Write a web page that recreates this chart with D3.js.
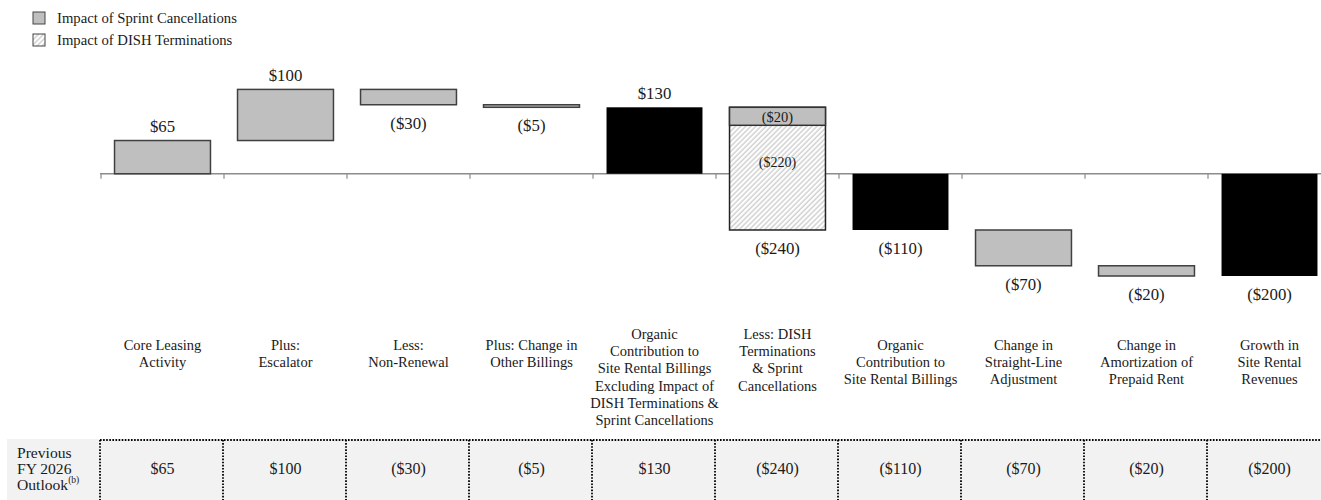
<!DOCTYPE html>
<html>
<head>
<meta charset="utf-8">
<script src="https://cdn.jsdelivr.net/npm/d3@7/dist/d3.min.js"></script>
<style>
  html, body { margin: 0; padding: 0; background: #fff; }
  svg { display: block; }
  text { font-family: "Liberation Serif", "Times New Roman", serif; fill: #1a1a1a; }
</style>
</head>
<body>
<svg id="chart" width="1321" height="500"></svg>
<script>
// ---------- data ----------
const categories = [
  "Core Leasing Activity", "Plus: Escalator", "Less: Non-Renewal", "Plus: Change in Other Billings",
  "Organic Contribution to Site Rental Billings Excluding Impact of DISH Terminations & Sprint Cancellations",
  "Less: DISH Terminations & Sprint Cancellations", "Organic Contribution to Site Rental Billings",
  "Change in Straight-Line Adjustment", "Change in Amortization of Prepaid Rent", "Growth in Site Rental Revenues"
];
const categoryLines = [
  ["Core Leasing", "Activity"],
  ["Plus:", "Escalator"],
  ["Less:", "Non-Renewal"],
  ["Plus: Change in", "Other Billings"],
  ["Organic", "Contribution to", "Site Rental Billings", "Excluding Impact of", "DISH Terminations &", "Sprint Cancellations"],
  ["Less: DISH", "Terminations", "& Sprint", "Cancellations"],
  ["Organic", "Contribution to", "Site Rental Billings"],
  ["Change in", "Straight-Line", "Adjustment"],
  ["Change in", "Amortization of", "Prepaid Rent"],
  ["Growth in", "Site Rental", "Revenues"]
];
const values = [65, 100, -30, -5, 130, -240, -110, -70, -20, -200];
const kinds  = ["delta", "delta", "delta", "delta", "total", "split", "total", "delta", "delta", "total"];
const sprintImpact = -20;
const dishImpact = -220;
const outlookValues = [65, 100, -30, -5, 130, -240, -110, -70, -20, -200];
const legendItems = ["Impact of Sprint Cancellations", "Impact of DISH Terminations"];
const rowHeader = ["Previous", "FY 2026", "Outlook"];

// ---------- helpers ----------
const fmt = v => v < 0 ? "($" + Math.abs(v) + ")" : "$" + v;

// waterfall geometry
let run = 0;
const bars = values.map((v, i) => {
  let start, end;
  if (kinds[i] === "total") { start = 0; end = v; run = v; }
  else { start = run; end = run + v; run = end; }
  return { cat: categories[i], v, kind: kinds[i], start, end, i };
});

const svg = d3.select("#chart");
const W = 1321;

const x = d3.scaleBand().domain(categories).range([101, 1331]).paddingInner(0.22).paddingOuter(0.11);
const step = x.step();
const y = d3.scaleLinear().domain([-200, 130]).range([276, 107.3]);

// defs: hatch
const defs = svg.append("defs");
const pat = defs.append("pattern").attr("id", "hatch").attr("patternUnits", "userSpaceOnUse")
  .attr("width", 3.6).attr("height", 3.6).attr("patternTransform", "rotate(45)");
pat.append("rect").attr("width", 3.6).attr("height", 3.6).attr("fill", "#fff");
pat.append("line").attr("x1", 1).attr("y1", 0).attr("x2", 1).attr("y2", 3.6)
  .attr("stroke", "#b4b4b4").attr("stroke-width", 0.9);

// ---------- legend ----------
const lg = svg.append("g");
legendItems.forEach((t, i) => {
  const yy = 12 + i * 22;
  lg.append("rect").attr("x", 33).attr("y", yy).attr("width", 12).attr("height", 12)
    .attr("fill", i === 0 ? "#bfbfbf" : "url(#hatch)").attr("stroke", "#444").attr("stroke-width", 1);
  lg.append("text").attr("x", 57).attr("y", yy + 6).attr("dy", "0.35em")
    .style("font-size", "14.7px").text(t);
});

// ---------- axis ----------
const boundaries = categories.map(c => x(c) - step * x.paddingInner() / 2);
svg.append("line").attr("x1", 100).attr("x2", W).attr("y1", y(0)).attr("y2", y(0))
  .attr("stroke", "#8c8c8c").attr("stroke-width", 1.5);
svg.append("g").selectAll("line").data(boundaries).join("line")
  .attr("x1", d => d).attr("x2", d => d).attr("y1", y(0)).attr("y2", y(0) + 5)
  .attr("stroke", "#8c8c8c").attr("stroke-width", 1.2);

// ---------- bars ----------
const g = svg.append("g");
bars.forEach(b => {
  const x0 = x(b.cat), bw = x.bandwidth();
  const top = y(Math.max(b.start, b.end)), bot = y(Math.min(b.start, b.end));
  if (b.kind === "total") {
    g.append("rect").attr("x", x0).attr("y", top).attr("width", bw).attr("height", bot - top).attr("fill", "#000");
  } else if (b.kind === "split") {
    g.append("rect").attr("x", x0).attr("y", top).attr("width", bw).attr("height", bot - top)
      .attr("fill", "url(#hatch)").attr("stroke", "#222").attr("stroke-width", 1.5);
    const segH = Math.max(y(b.start + sprintImpact) - y(b.start), 18);
    g.append("rect").attr("x", x0).attr("y", top).attr("width", bw).attr("height", segH)
      .attr("fill", "#bfbfbf").attr("stroke", "#333").attr("stroke-width", 1.5);
    g.append("text").attr("x", x0 + bw / 2).attr("y", top + segH / 2 + 1).attr("dy", "0.35em")
      .attr("text-anchor", "middle").style("font-size", "14.5px").text(fmt(sprintImpact));
    g.append("text").attr("x", x0 + bw / 2).attr("y", y(0) - 12).attr("dy", "0.35em")
      .attr("text-anchor", "middle").style("font-size", "14px").text(fmt(dishImpact));
  } else {
    g.append("rect").attr("x", x0).attr("y", top).attr("width", bw).attr("height", Math.max(bot - top, 1))
      .attr("fill", "#bfbfbf").attr("stroke", "#404040").attr("stroke-width", 1.5);
  }
  // value label
  const ly = b.v >= 0 ? top - 14 : bot + 18;
  g.append("text").attr("x", x0 + bw / 2).attr("y", ly).attr("dy", "0.35em")
    .attr("text-anchor", "middle").style("font-size", "16.8px").text(fmt(b.v));
});

// ---------- category labels ----------
const cl = svg.append("g");
categoryLines.forEach((lines, i) => {
  const cx = x(categories[i]) + x.bandwidth() / 2;
  const y0 = lines.length >= 4 ? 334 : 344.5;
  const t = cl.append("text").attr("text-anchor", "middle").style("font-size", "14.5px");
  lines.forEach((ln, j) => {
    t.append("tspan").attr("x", cx).attr("y", y0 + j * 17.2).attr("dy", "0.35em").text(ln);
  });
});

// ---------- table ----------
const tb = svg.append("g");
tb.append("rect").attr("x", 7).attr("y", 439).attr("width", W - 7).attr("height", 61).attr("fill", "#f2f2f2");
const dot = sel => sel.attr("stroke", "#000").attr("stroke-width", 1.8).attr("stroke-dasharray", "1.6,1.5");
tb.append("line").attr("x1", boundaries[0] - 1).attr("x2", W).attr("y1", 440).attr("y2", 440).call(dot);
tb.selectAll("line.v").data(boundaries).join("line").attr("class", "v")
  .attr("x1", d => d - 1).attr("x2", d => d - 1).attr("y1", 440).attr("y2", 500).call(dot);
const hdr = tb.append("text").style("font-size", "15.6px");
rowHeader.forEach((ln, j) => {
  hdr.append("tspan").attr("x", 17).attr("y", 452.5 + j * 16).attr("dy", "0.35em").text(ln);
});
hdr.append("tspan").attr("dy", "-0.75em").style("font-size", "9.5px").text("(b)");
tb.selectAll("text.val").data(outlookValues).join("text").attr("class", "val")
  .attr("x", (d, i) => x(categories[i]) + x.bandwidth() / 2).attr("y", 468).attr("dy", "0.35em")
  .attr("text-anchor", "middle").style("font-size", "16px").text(d => fmt(d));
</script>
</body>
</html>
